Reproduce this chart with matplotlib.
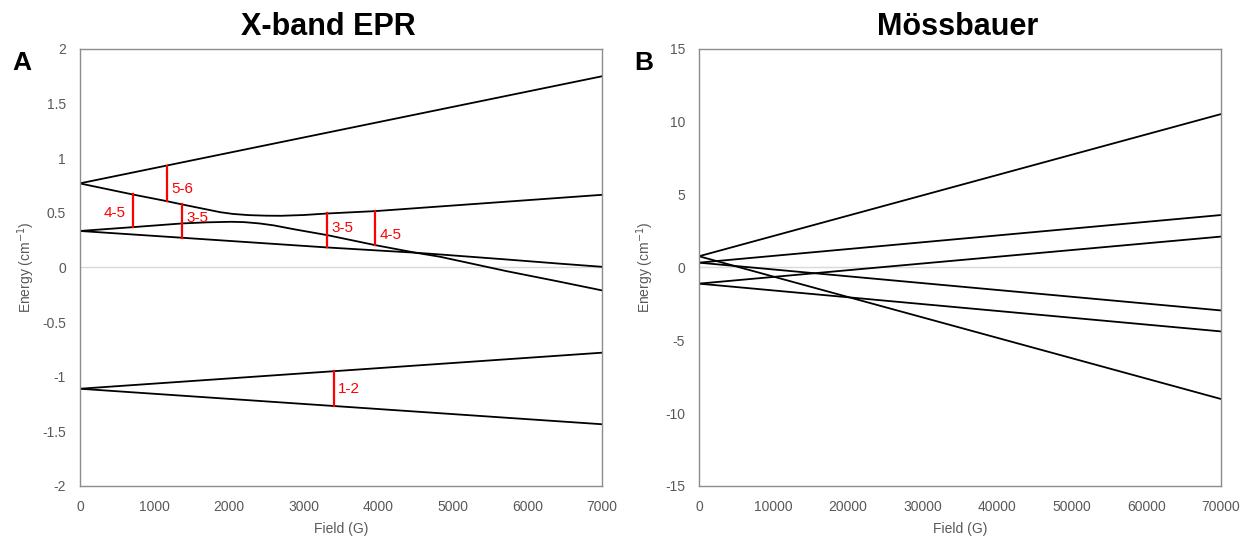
import numpy as np
import matplotlib.pyplot as plt

plt.rcParams['font.family'] = ['Liberation Sans', 'DejaVu Sans']
plt.rcParams['axes.unicode_minus'] = False

# --- X-band EPR: energy levels vs field (G), read per level ---
lvl1_field = [0, 7000]
lvl1_energy = [-1.11, -1.435]
lvl2_field = [0, 7000]
lvl2_energy = [-1.11, -0.78]
lvl3_field = [0, 1368, 3316, 4500, 4828, 5722, 6393, 7000]
lvl3_energy = [0.334, 0.272, 0.183, 0.135, 0.119, 0.073, 0.037, 0.006]
lvl4_field = [0, 708, 1368, 1700, 2024, 2200, 2407, 2600, 2837, 3000, 3316,
              3962, 4500, 4828, 5722, 6393, 7000]
lvl4_energy = [0.334, 0.369, 0.403, 0.413, 0.418, 0.415, 0.403, 0.385, 0.354, 0.334, 0.296,
               0.204, 0.135, 0.098, -0.034, -0.125, -0.21]
lvl5_field = [0, 708, 1163, 1368, 1650, 1880, 2050, 2263, 2500, 2694, 3000, 3316, 3962, 7000]
lvl5_energy = [0.769, 0.668, 0.607, 0.577, 0.538, 0.506, 0.490, 0.479, 0.474, 0.473, 0.480,
               0.494, 0.516, 0.665]
lvl6_field = [0, 7000]
lvl6_energy = [0.77, 1.75]

epr_levels = [
    (lvl1_field, lvl1_energy),
    (lvl2_field, lvl2_energy),
    (lvl3_field, lvl3_energy),
    (lvl4_field, lvl4_energy),
    (lvl5_field, lvl5_energy),
    (lvl6_field, lvl6_energy),
]

# resonant transitions: field, lower level, upper level, label
trans_field = [708, 1163, 1368, 3316, 3962, 3402]
trans_lower = [4, 5, 3, 3, 4, 1]
trans_upper = [5, 6, 5, 5, 5, 2]
trans_label = ['4-5', '5-6', '3-5', '3-5', '4-5', '1-2']
# label side and height along the red mark (fraction from lower end)
label_left = [True, False, False, False, False, False]
label_frac = [0.42, 0.35, 0.6, 0.56, 0.3, 0.5]

# --- Mössbauer: levels vs field (G), straight lines end to end ---
moss_field = [0, 70000]
moss_energy = [
    [0.77, 10.53],
    [0.77, -9.03],
    [0.33, 3.60],
    [0.33, -2.95],
    [-1.11, 2.12],
    [-1.11, -4.39],
]

GRAY = '#595959'
SPINE = '#8c8c8c'
RED = '#ff0000'


def style_axes(ax):
    for s in ax.spines.values():
        s.set_color(SPINE)
        s.set_linewidth(1.0)
    ax.tick_params(length=0, labelsize=10, labelcolor=GRAY, pad=10)
    ax.axhline(0, color='#d9d9d9', lw=1.0, zorder=0)
    ax.set_xlabel('Field (G)', fontsize=10, color=GRAY)
    ax.set_ylabel('Energy (cm$^{-1}$)', fontsize=10, color=GRAY)
    ax.xaxis.set_label_coords(0.5, -0.082)
    ax.yaxis.set_label_coords(-0.082, 0.5)


fig = plt.figure(figsize=(12.48, 5.38), dpi=100)
ax_a = fig.add_axes([0.0641, 0.0967, 0.4183, 0.8123])
ax_b = fig.add_axes([0.5601, 0.0967, 0.4183, 0.8123])

# panel A
for f, e in epr_levels:
    ax_a.plot(f, e, color='black', lw=1.3, zorder=2, solid_joinstyle='round')

for i, (b, lo, hi, lab) in enumerate(zip(trans_field, trans_lower, trans_upper, trans_label)):
    e_lo = np.interp(b, *epr_levels[lo - 1])
    e_hi = np.interp(b, *epr_levels[hi - 1])
    ax_a.plot([b, b], [e_lo, e_hi], color=RED, lw=1.6, zorder=3)
    ty = e_lo + label_frac[i] * (e_hi - e_lo)
    if label_left[i]:
        ax_a.text(b - 90, ty, lab, color=RED, fontsize=11, ha='right', va='center')
    else:
        ax_a.text(b + 60, ty, lab, color=RED, fontsize=11, ha='left', va='center')

ax_a.set_xlim(0, 7000)
ax_a.set_ylim(-2, 2)
ax_a.set_xticks(np.arange(0, 7001, 1000))
ax_a.set_yticks(np.arange(-2, 2.01, 0.5))
ax_a.set_yticklabels(['-2', '-1.5', '-1', '-0.5', '0', '0.5', '1', '1.5', '2'])
style_axes(ax_a)
ax_a.set_title('X-band EPR', fontsize=22, fontweight='bold', x=0.475, pad=10)

# panel B
for e in moss_energy:
    ax_b.plot(moss_field, e, color='black', lw=1.3, zorder=2)
ax_b.set_xlim(0, 70000)
ax_b.set_ylim(-15, 15)
ax_b.set_xticks(np.arange(0, 70001, 10000))
ax_b.set_yticks(np.arange(-15, 16, 5))
style_axes(ax_b)
ax_b.set_title('Mössbauer', fontsize=22, fontweight='bold', x=0.496, pad=10)

fig.text(0.0096, 0.87, 'A', fontsize=19, fontweight='bold', va='baseline')
fig.text(0.508, 0.87, 'B', fontsize=19, fontweight='bold', va='baseline')

fig.savefig('out.png', dpi=100)
